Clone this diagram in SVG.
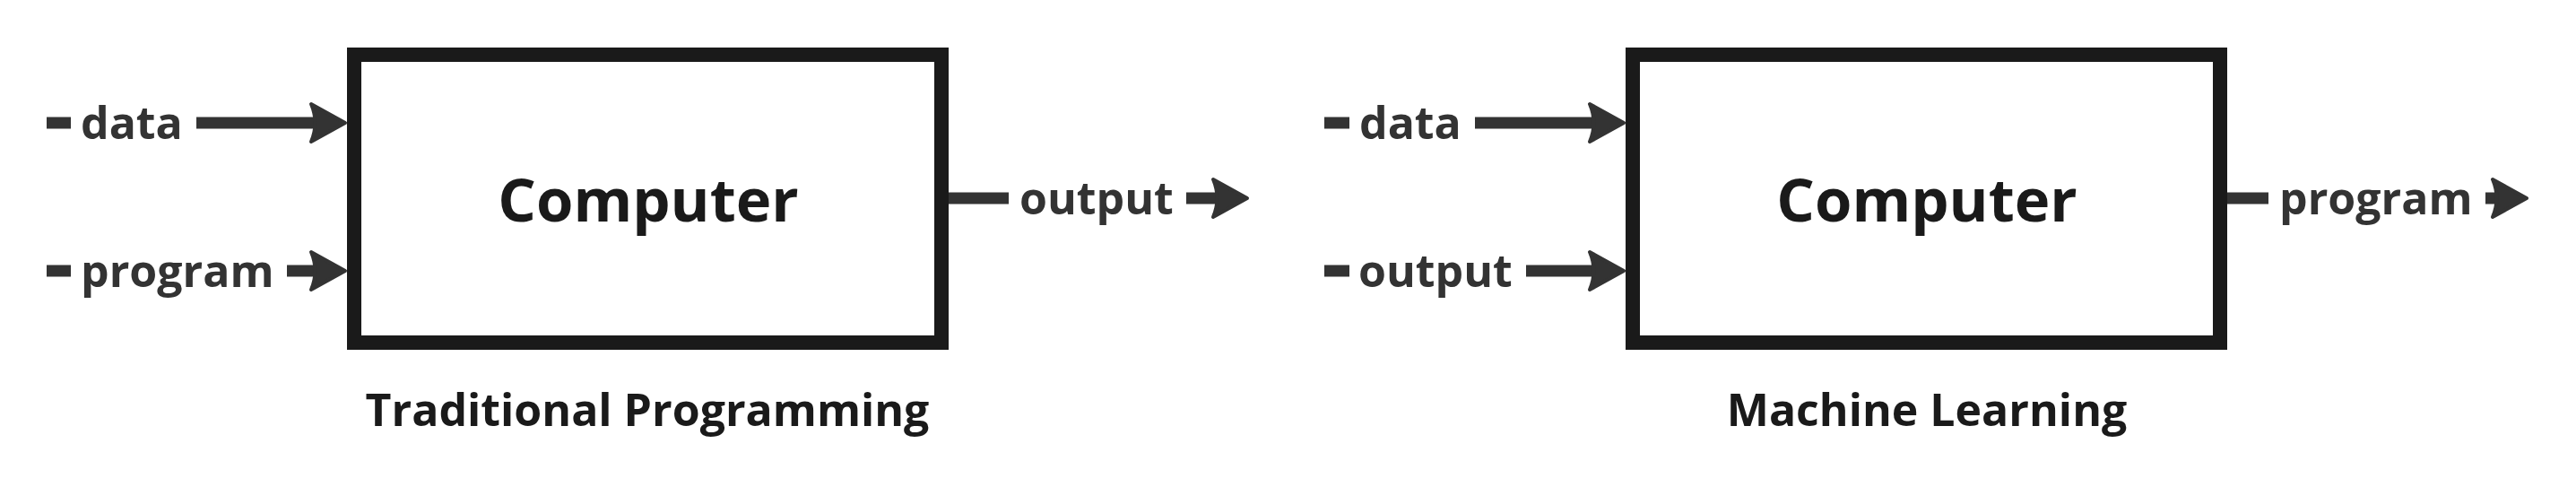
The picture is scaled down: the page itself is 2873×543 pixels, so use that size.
<svg xmlns="http://www.w3.org/2000/svg" xmlns:xlink="http://www.w3.org/1999/xlink" width="2873" height="543" viewBox="0 0 2873 543">
  <style>
    .box { fill: #ffffff; stroke: #1a1a1a; stroke-width: 16; }
    .title { font-family: "Open Sans", "Noto Sans", "Liberation Sans", sans-serif; font-weight: 700; font-size: 67px; fill: #1a1a1a; text-anchor: middle; }
    .caption { font-family: "Open Sans", "Noto Sans", "Liberation Sans", sans-serif; font-weight: 700; font-size: 50px; fill: #1a1a1a; text-anchor: middle; }
    .lbl { font-family: "Open Sans", "Noto Sans", "Liberation Sans", sans-serif; font-weight: 700; font-size: 50px; fill: #333333; }
    .ln { stroke: #333333; stroke-width: 13; fill: none; stroke-linecap: butt; }
    .ah { fill: #333333; stroke: #333333; stroke-width: 4; stroke-linejoin: round; }
  </style>
  <defs>
    <path id="ah" class="ah" d="M-38,-21 L0,0 L-38,21 Q-29,0 -38,-21 Z"/>
  </defs>
  <rect width="2873" height="543" fill="#ffffff"/>

  <g id="box-traditional">
    <rect class="box" x="395" y="61" width="655" height="321"/>
    <text class="title" x="723" y="247">Computer</text>
  </g>
  <g id="caption-traditional">
    <text class="caption" x="722" y="475">Traditional Programming</text>
  </g>

  <g id="box-ml">
    <rect class="box" x="1821" y="61" width="655" height="321"/>
    <text class="title" x="2149" y="247">Computer</text>
  </g>
  <g id="caption-ml">
    <text class="caption" x="2149" y="475">Machine Learning</text>
  </g>

  <g id="connectors">
    <!-- Traditional: data in -->
    <line class="ln" x1="52" y1="137" x2="79" y2="137"/>
    <text class="lbl" x="90" y="155">data</text>
    <line class="ln" x1="219" y1="137" x2="365" y2="137"/>
    <use xlink:href="#ah" transform="translate(385,137)"/>
    <!-- Traditional: program in -->
    <line class="ln" x1="52" y1="302" x2="79" y2="302"/>
    <text class="lbl" x="90" y="320">program</text>
    <line class="ln" x1="320" y1="302" x2="365" y2="302"/>
    <use xlink:href="#ah" transform="translate(385,302)"/>
    <!-- Traditional: output out -->
    <line class="ln" x1="1058" y1="221" x2="1125" y2="221"/>
    <text class="lbl" x="1137" y="239">output</text>
    <line class="ln" x1="1323" y1="221" x2="1372" y2="221"/>
    <use xlink:href="#ah" transform="translate(1391,221)"/>

    <!-- ML: data in -->
    <line class="ln" x1="1477" y1="137" x2="1505" y2="137"/>
    <text class="lbl" x="1516" y="155">data</text>
    <line class="ln" x1="1645" y1="137" x2="1791" y2="137"/>
    <use xlink:href="#ah" transform="translate(1811,137)"/>
    <!-- ML: output in -->
    <line class="ln" x1="1477" y1="302" x2="1505" y2="302"/>
    <text class="lbl" x="1515" y="320">output</text>
    <line class="ln" x1="1702" y1="302" x2="1791" y2="302"/>
    <use xlink:href="#ah" transform="translate(1811,302)"/>
    <!-- ML: program out -->
    <line class="ln" x1="2484" y1="221" x2="2530" y2="221"/>
    <text class="lbl" x="2542" y="239">program</text>
    <line class="ln" x1="2772" y1="221" x2="2800" y2="221"/>
    <use xlink:href="#ah" transform="translate(2818,221)"/>
  </g>
</svg>
